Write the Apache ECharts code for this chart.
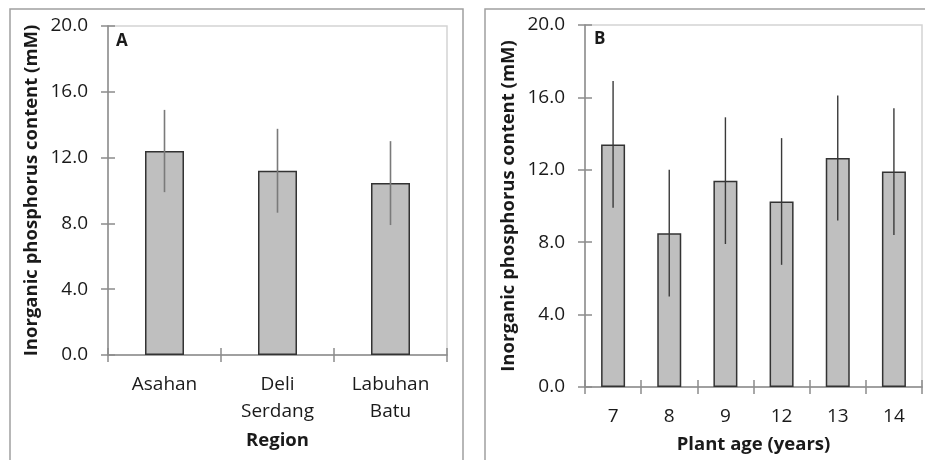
<!DOCTYPE html>
<html><head><meta charset="utf-8">
<script src="https://cdn.jsdelivr.net/npm/echarts@6/dist/echarts.min.js"></script>
<style>html,body{margin:0;padding:0;background:#fff}#c{width:925px;height:460px}</style>
</head><body><div id="c"></div>
<script>
// ---- data ----
const regionCategories = ['Asahan', 'Deli\nSerdang', 'Labuhan\nBatu'];
const regionMeans = [12.4, 11.2, 10.45];
const regionErrors = [2.5, 2.55, 2.55];
const ageCategories = ['7', '8', '9', '12', '13', '14'];
const ageMeans = [13.4, 8.5, 11.4, 10.25, 12.65, 11.9];
const ageErrors = [3.5, 3.5, 3.5, 3.5, 3.45, 3.5];
const yMin = 0, yMax = 20, yStep = 4;
const yTitle = 'Inorganic phosphorus content (mM)';

const FONT = '"Open Sans", sans-serif';
const TXT = '#1a1a1a';
const AX = '#8c8c8c';

function errData(means, errs) {
  return means.map((m, i) => [i, m - errs[i], m + errs[i]]);
}
function errRender(color, width) {
  return function (params, api) {
    const x = api.value(0);
    const lo = api.coord([x, api.value(1)]);
    const hi = api.coord([x, api.value(2)]);
    return { type: 'line', shape: { x1: lo[0], y1: lo[1], x2: hi[0], y2: hi[1] },
      style: { stroke: color, lineWidth: width } };
  };
}
function xAxes(grid, cats, name, nameGap) {
  return [{
    type: 'category', gridIndex: grid, data: cats, position: 'bottom',
    name: name, nameLocation: 'middle', nameGap: nameGap,
    nameTextStyle: { fontFamily: FONT, fontSize: 18.5, fontWeight: 'bold', color: TXT },
    axisLine: { lineStyle: { color: AX, width: 1.5 } },
    axisTick: { show: true, length: 7, inside: false, lineStyle: { color: AX, width: 1.5 } },
    axisLabel: { fontFamily: FONT, fontSize: 19, color: TXT, lineHeight: 27, margin: 16, interval: 0 },
    splitLine: { show: false }
  }, {
    type: 'category', gridIndex: grid, data: cats, position: 'bottom',
    axisLine: { show: false },
    axisTick: { show: true, length: 7, inside: true, lineStyle: { color: AX, width: 1.5 } },
    axisLabel: { show: false }, splitLine: { show: false }
  }];
}
function yAxes(grid) {
  return [{
    type: 'value', gridIndex: grid, min: yMin, max: yMax, interval: yStep, position: 'left',
    name: yTitle, nameLocation: 'middle', nameGap: 67,
    nameTextStyle: { fontFamily: FONT, fontSize: 18.5, fontWeight: 'bold', color: TXT },
    axisLine: { show: true, lineStyle: { color: AX, width: 1.5 } },
    axisTick: { show: true, length: 7, inside: false, lineStyle: { color: AX, width: 1.5 } },
    axisLabel: { fontFamily: FONT, fontSize: 19, color: TXT, margin: 20, formatter: v => v.toFixed(1) },
    splitLine: { show: false }
  }, {
    type: 'value', gridIndex: grid, min: yMin, max: yMax, interval: yStep, position: 'left',
    axisLine: { show: false },
    axisTick: { show: true, length: 7, inside: true, lineStyle: { color: AX, width: 1.5 } },
    axisLabel: { show: false }, splitLine: { show: false }
  }];
}

const chart = echarts.init(document.getElementById('c'), null, { renderer: 'canvas' });
chart.setOption({
  backgroundColor: '#fff',
  animation: false,
  grid: [
    { left: 108, top: 26, width: 339, height: 329, show: true, borderColor: '#d4d4d4', borderWidth: 1.5, backgroundColor: 'transparent' },
    { left: 585, top: 25, width: 337, height: 362, show: true, borderColor: '#d4d4d4', borderWidth: 1.5, backgroundColor: 'transparent' }
  ],
  xAxis: [].concat(xAxes(0, regionCategories, 'Region', 76), xAxes(1, ageCategories, 'Plant age (years)', 47)),
  yAxis: [].concat(yAxes(0), yAxes(1)),
  graphic: [
    { type: 'rect', shape: { x: 10, y: 9, width: 453, height: 480 }, style: { fill: 'none', stroke: '#a0a0a0', lineWidth: 1.5 }, z: -1 },
    { type: 'rect', shape: { x: 485, y: 9, width: 480, height: 480 }, style: { fill: 'none', stroke: '#a0a0a0', lineWidth: 1.5 }, z: -1 },
    { type: 'text', left: 116, top: 33, style: { text: 'A', font: 'bold 17px ' + FONT, fill: TXT } },
    { type: 'text', left: 594, top: 31, style: { text: 'B', font: 'bold 17px ' + FONT, fill: TXT } }
  ],
  series: [
    { type: 'bar', xAxisIndex: 0, yAxisIndex: 0, data: regionMeans, barWidth: 39,
      itemStyle: { color: '#bfbfbf', borderColor: '#333333', borderWidth: 1.5 } },
    { type: 'custom', xAxisIndex: 0, yAxisIndex: 0, data: errData(regionMeans, regionErrors),
      encode: { x: 0, y: [1, 2] }, renderItem: errRender('#7a7a7a', 1.6), z: 5 },
    { type: 'bar', xAxisIndex: 2, yAxisIndex: 2, data: ageMeans, barWidth: 24,
      itemStyle: { color: '#bfbfbf', borderColor: '#333333', borderWidth: 1.5 } },
    { type: 'custom', xAxisIndex: 2, yAxisIndex: 2, data: errData(ageMeans, ageErrors),
      encode: { x: 0, y: [1, 2] }, renderItem: errRender('#3a3a3a', 1.4), z: 5 }
  ]
});
</script></body></html>
